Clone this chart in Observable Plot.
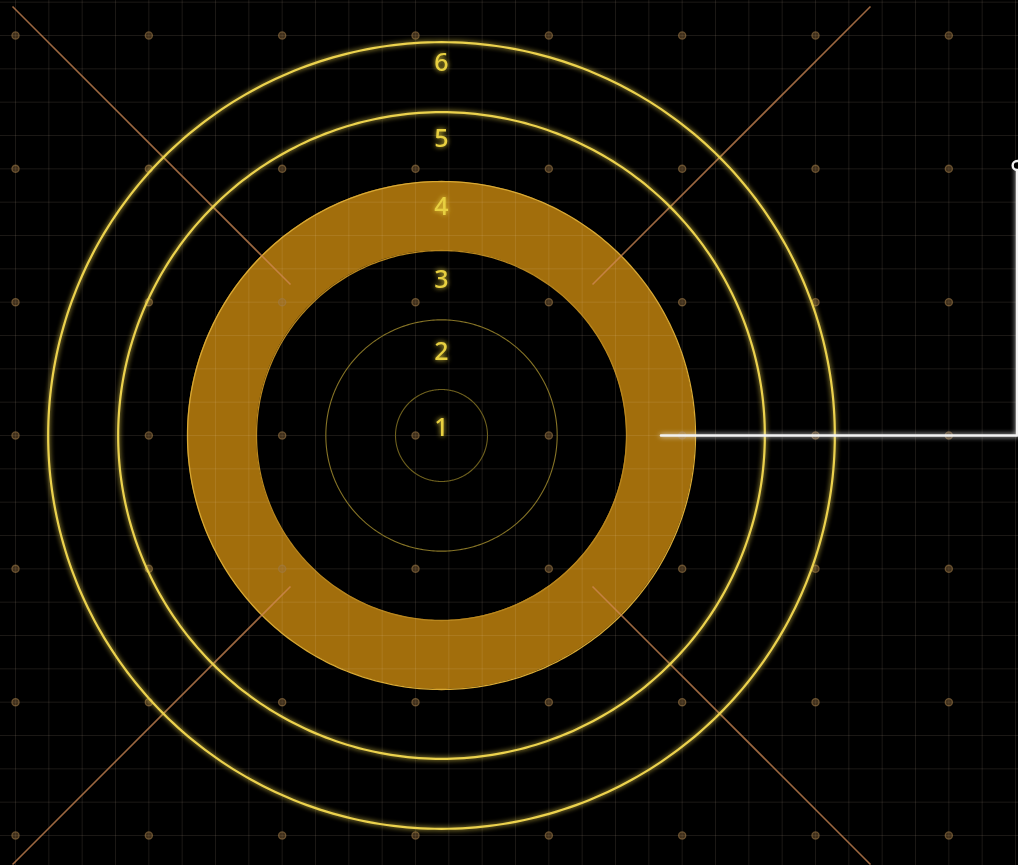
<!DOCTYPE html>
<html>
<head>
<meta charset="utf-8">
<script src="https://cdn.jsdelivr.net/npm/d3@7"></script>
<script src="https://cdn.jsdelivr.net/npm/@observablehq/plot@0.6"></script>
<style>
  html, body { margin: 0; padding: 0; background: #000; overflow: hidden; }
  #chart svg { display: block; }
</style>
</head>
<body>
<div id="chart"></div>
<script>
// ---- data (grid units) ----
const center = {x: 12.78, y: 12};
const levels = [1, 2, 3, 4, 5, 6];
const ringRadii = [1.38, 3.47, 5.55, 7.62, 9.7, 11.8];     // outer radius of each level
const labelOffsets = [0.21, 2.49, 4.65, 6.84, 8.88, 11.16]; // label distance above center
const highlightedLevel = 4;
const gridX = d3.range(0, 31);
const gridY = d3.range(-1, 25);
const dotX = [0, 4, 8, 12, 16, 20, 24, 28];
const dotY = [0, 4, 8, 12, 16, 20, 24];
const diagonalDirs = [[-1, -1], [1, -1], [-1, 1], [1, 1]];
const diagonalStart = 4.53, diagonalEnd = 12.87;
const leaderEnd = {x: 30.05, y: 3.9};

// ---- derived tables ----
const angles = d3.range(0, 361, 1).map(a => a * Math.PI / 180);
const ringLines = [];
levels.forEach((lv, i) => {
  if (lv === highlightedLevel || lv === highlightedLevel - 1) return;
  angles.forEach(t => ringLines.push({level: lv, x: center.x + ringRadii[i] * Math.cos(t), y: center.y + ringRadii[i] * Math.sin(t)}));
});
const rIn = ringRadii[highlightedLevel - 2], rOut = ringRadii[highlightedLevel - 1];
const band = angles.map(t => ({
  x1: center.x + rOut * Math.cos(t), y1: center.y + rOut * Math.sin(t),
  x2: center.x + rIn * Math.cos(t), y2: center.y + rIn * Math.sin(t)
}));
const bandEdges = [];
[rIn, rOut].forEach((r, k) => angles.forEach(t => bandEdges.push({edge: k, x: center.x + r * Math.cos(t), y: center.y + r * Math.sin(t)})));
const diagonals = diagonalDirs.map(([dx, dy]) => ({
  x1: center.x + dx * diagonalStart, y1: center.y + dy * diagonalStart,
  x2: center.x + dx * diagonalEnd, y2: center.y + dy * diagonalEnd
}));
const dots = dotX.flatMap(x => dotY.map(y => ({x, y})));
const labels = levels.map((lv, i) => ({level: lv, x: center.x, y: center.y - labelOffsets[i]}));
const bandMid = (rIn + rOut) / 2;
const leader = [
  {x: center.x + bandMid, y: center.y},
  {x: leaderEnd.x, y: center.y},
  {x: leaderEnd.x, y: leaderEnd.y}
];

const W = 1018, H = 865, U = 33.3333;
const plot = Plot.plot({
  width: W, height: H,
  margin: 0,
  style: {background: "#000"},
  x: {domain: [-15 / U, (W - 15) / U], axis: null},
  y: {domain: [-35 / U, (H - 35) / U], reverse: true, axis: null},
  marks: [
    Plot.area(band, {x1: "x1", y1: "y1", x2: "x2", y2: "y2", fill: "#a26e0c"}),
    Plot.line(bandEdges, {x: "x", y: "y", z: "edge", stroke: d => d.edge ? "#d8a833" : "#b8861e", strokeWidth: 1.3}),
    Plot.ruleX(gridX, {stroke: "#ffe6c8", strokeOpacity: 0.11, strokeWidth: 1}),
    Plot.ruleY(gridY, {stroke: "#ffe6c8", strokeOpacity: 0.11, strokeWidth: 1}),
    Plot.dot(dots, {x: "x", y: "y", r: 3.6, fill: "#9a7440", fillOpacity: 0.4, stroke: "#a07c48", strokeOpacity: 0.55, strokeWidth: 1.3}),
    Plot.line(ringLines.filter(d => d.level <= 2), {x: "x", y: "y", z: "level", stroke: d => d.level === 1 ? "#6e601e" : "#857326", strokeWidth: 1.1}),
    Plot.link(diagonals, {x1: "x1", y1: "y1", x2: "x2", y2: "y2", stroke: "#d08a55", strokeOpacity: 0.75, strokeWidth: 1.6}),
    Plot.line(ringLines.filter(d => d.level >= 5), {x: "x", y: "y", z: "level", stroke: "#ecd24e", strokeWidth: 2.2, ariaDescription: "bright-rings"}),
    Plot.line(leader, {x: "x", y: "y", stroke: "#f2f2f2", strokeWidth: 2.6, ariaDescription: "leader"}),
    Plot.dot([leader[2]], {x: "x", y: "y", r: 4.5, fill: "#000", stroke: "#f2f2f2", strokeWidth: 2.4}),
    Plot.text(labels, {x: "x", y: "y", text: d => String(d.level), fill: "#e8d040", fontSize: 25, fontFamily: "Noto Sans, sans-serif", fontWeight: 500, ariaDescription: "level-labels"})
  ]
});

const svg = d3.select(plot);
const defs = svg.insert("defs", ":first-child");
const f = defs.append("filter").attr("id", "glow").attr("filterUnits", "userSpaceOnUse")
  .attr("x", 0).attr("y", 0).attr("width", W).attr("height", H);
f.append("feGaussianBlur").attr("in", "SourceGraphic").attr("stdDeviation", 2.5).attr("result", "b");
const m = f.append("feMerge");
m.append("feMergeNode").attr("in", "b");
m.append("feMergeNode").attr("in", "SourceGraphic");
svg.selectAll('g[aria-description="bright-rings"], g[aria-description="level-labels"], g[aria-description="leader"]').attr("filter", "url(#glow)");

document.getElementById("chart").appendChild(plot);
</script>
</body>
</html>
